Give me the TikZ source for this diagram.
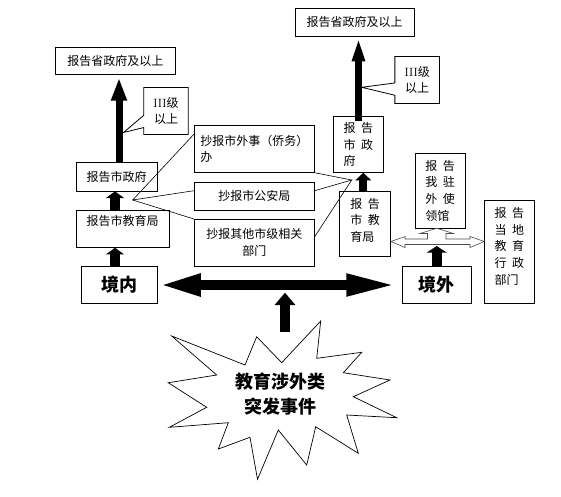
\documentclass[tikz,border=0pt]{standalone}
\usepackage{fontspec}
\newfontfamily\cjk{Noto Sans CJK SC}
\usetikzlibrary{calc,arrows.meta}
\newcommand{\boxfont}{\fontsize{12}{16.7}\selectfont\cjk}
\newcommand{\eventfont}{\fontsize{18}{25}\selectfont\cjk\bfseries}
\newcommand{\cgap}{\hspace{5.5pt}}
\tikzset{
  box/.style={draw, line width=0.8pt, inner sep=0pt, font=\boxfont},
  vbox/.style={box, align=left},
  note/.style={inner sep=0pt, font=\boxfont, align=center},
  lead/.style={line width=0.6pt},
  pipe/.style={line width=#1, line cap=butt},
  hollow/.style={draw=black!70, fill=white, line width=0.6pt, line join=miter},
  burst/.style={draw, line width=0.7pt, line join=miter},
}
\begin{document}
\begin{tikzpicture}[x=1pt,y=-1pt]
  \fill[white] (0,0) rectangle (561,496);

  % left column
  \node[box, minimum width=120pt, minimum height=27.3pt] (provL) at (115.3,61) {报告省政府及以上};
  \node[box, minimum width=81.3pt, minimum height=28.3pt] (cityL) at (116.7,176.8) {报告市政府};
  \node[box, minimum width=93.3pt, minimum height=37.3pt, align=center] (eduL) at (122.7,228.7) {报告市教育局\\\mbox{}};
  \node[box, minimum width=75.7pt, minimum height=36.7pt, font=\eventfont] (inland) at (119.5,285) {境内};

  % middle column
  \node[box, minimum width=120pt, minimum height=46.7pt, align=left, text width=108pt] (fao) at (254.3,149) {抄报市外事（侨务）\\办};
  \node[box, minimum width=120pt, minimum height=28pt] (police) at (254.3,196.3) {抄报市公安局};
  \node[box, minimum width=120pt, minimum height=46.7pt, align=center] (other) at (254.3,242.7) {抄报其他市级相关\\部门};

  % right column
  \node[box, minimum width=119.3pt, minimum height=27.7pt] (provR) at (354.7,22.2) {报告省政府及以上};
  \node[vbox, minimum width=50pt, minimum height=55.7pt] (cityR) at (358.3,144.5) {报\cgap 告\\市\cgap 政\\府};
  \node[vbox, minimum width=51.3pt, minimum height=65pt] (eduR) at (365,224.2) {报\cgap 告\\市\cgap 教\\育局\\[-8pt]\mbox{}};
  \node[vbox, minimum width=50pt, minimum height=75pt] (embassy) at (440,190.8) {报\cgap 告\\我\cgap 驻\\外\cgap 使\\领馆};
  \node[vbox, minimum width=50pt, minimum height=103.3pt] (local) at (509.3,251.7) {报\cgap 告\\当\cgap 地\\教\cgap 育\\行\cgap 政\\部门\\[-5pt]\mbox{}};
  \node[box, minimum width=68.7pt, minimum height=36.7pt, font=\eventfont] (abroad) at (436.7,285) {境外};

  % callouts
  \node[note, minimum width=44pt, minimum height=46.7pt] (levelL) at (166,111) {{\rmfamily III}级\\以上};
  \node[note, minimum width=44.3pt, minimum height=46.7pt] (levelR) at (417.2,80) {{\rmfamily III}级\\以上};
  \coordinate (tipL) at (123.5,132.5);
  \coordinate (tipR) at (361.7,87.3);
  \draw[lead, line width=0.8pt] ($(levelL.south west)+(0,-7)$) -- (levelL.south west) -- (levelL.south east)
    -- (levelL.north east) -- (levelL.north west) -- ($(levelL.south west)+(0,-19.3)$) -- (tipL) -- cycle;
  \draw[lead, line width=0.8pt] ($(levelR.south west)+(0,-8.3)$) -- (levelR.south west) -- (levelR.south east)
    -- (levelR.north east) -- (levelR.north west) -- ($(levelR.south west)+(0,-20.6)$) -- (tipR) -- cycle;

  % arrows
  \coordinate (axL) at (119,0);
  \coordinate (axR) at (358.5,0);
  \coordinate (a1) at (115,0);
  \coordinate (a3) at (363.3,0);
  \draw[pipe=7pt, -{Triangle[width=14.5pt,length=23pt]}, shorten >=2.5pt] (cityL.north -| axL) -- (provL.south -| axL);
  \draw[pipe=6.7pt, -{Triangle[width=11.5pt,length=25pt]}] ($(cityR.north -| axR)+(0,5)$) -- (provR.south -| axR);
  \draw[pipe=10pt, -{Triangle[width=18pt,length=6.7pt]}] (eduL.north -| a1) -- (cityL.south -| a1);
  \draw[pipe=10pt, -{Triangle[width=18pt,length=6.7pt]}] (inland.north -| a1) -- (eduL.south -| a1);
  \draw[pipe=8pt, -{Triangle[width=15.7pt,length=7.7pt]}] (eduR.north -| a3) -- (cityR.south -| a3);
  \coordinate (teeBase) at (436.7,246);
  \draw[pipe=10pt, -{Triangle[width=20pt,length=6.7pt]}] (abroad.north) -- (teeBase);
  \draw[pipe=10pt, {Triangle[width=20pt,length=43pt]}-{Triangle[width=20pt,length=51.6pt]}, shorten >=4pt] (inland.east) -- (abroad.west);
  \coordinate (burstTop) at (285,331.7);
  \coordinate (hitPoint) at (285,292.7);
  \draw[pipe=10pt, -{Triangle[width=20pt,length=12.3pt]}] (burstTop) -- (hitPoint);

  % copy lines
  \coordinate (hubL) at (132.7,200);
  \coordinate (hubR) at (351.7,180);
  \draw[lead] ([yshift=-9pt]fao.north west) -- (hubL) -- ([yshift=5.6pt]police.west);
  \draw[lead] (hubL) -- (other.north west);
  \draw[lead] (fao.south east) -- (hubR) -- ([yshift=5.6pt]police.east);
  \draw[lead] (hubR) -- ([yshift=6pt]other.east);

  % hollow three-way arrow
  \draw[hollow] (391,241.5) -- (405,236.5) -- (405,239) -- (427.5,239) -- (427.5,233.5) -- (420,233.5)
    -- (436.7,228.3) -- (453.5,233.5) -- (446,233.5) -- (446,239) -- (470,239) -- (470,236.5)
    -- (484.3,241.5) -- (470,247.5) -- (470,244.5) -- (405,244.5) -- (405,247.5) -- cycle;

  % event burst
  \draw[burst] (171.7,336) -- (245,365) -- (256.7,336.7) -- (281.7,362.7) -- (320.7,321) -- (316.7,358.3)
    -- (361.7,352.3) -- (343.3,372.7) -- (390,380) -- (353.3,396.7) -- (396.7,417.7) -- (346.7,415)
    -- (358.3,453.3) -- (315.7,426.7) -- (306.7,465) -- (278.3,430) -- (257.5,479.3) -- (250,437.3)
    -- (218.3,449) -- (228.3,422.7) -- (169.3,427.3) -- (206.7,407.3) -- (168.3,382.7) -- (216.7,375) -- cycle;
  \node[font=\eventfont, align=center] (event) at (280,394) {教育涉外类\\突发事件};
\end{tikzpicture}
\end{document}
